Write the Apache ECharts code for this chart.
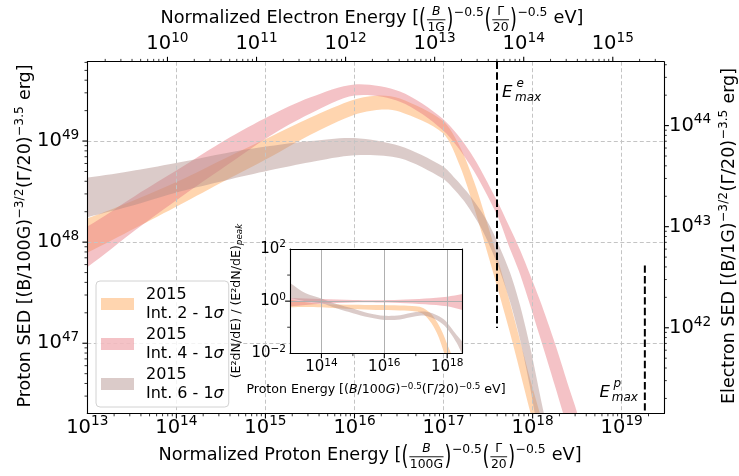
<!DOCTYPE html>
<html>
<head>
<meta charset="utf-8">
<script src="https://cdn.jsdelivr.net/npm/echarts@6/dist/echarts.min.js"></script>
<style>
html, body { margin: 0; padding: 0; background: #fff; }
#main { width: 739px; height: 476px; }
</style>
</head>
<body>
<div id="main"></div>
<script>
var FONT = 'DejaVu Sans';

// all values are log10
// main plot: x = log10 proton energy, y = log10 proton SED
var int2X  = [12.86, 13.01, 13.54, 14.04, 14.55, 15.05, 15.50, 16.00, 16.28, 16.51, 16.99, 17.18, 17.35, 17.52, 17.75, 17.97, 18.14];
var int2Lo = [47.84, 47.90, 48.14, 48.37, 48.61, 48.84, 49.06, 49.26, 49.31, 49.29, 49.08, 48.76, 48.32, 47.81, 47.09, 46.33, 45.74];
var int2Hi = [48.22, 48.24, 48.42, 48.61, 48.83, 49.04, 49.23, 49.41, 49.45, 49.42, 49.20, 48.95, 48.58, 48.10, 47.39, 46.65, 46.08];

var int4X  = [12.86, 13.01, 13.54, 14.04, 14.55, 15.05, 15.50, 16.00, 16.51, 16.99, 17.30, 17.60, 17.73, 17.86, 18.08, 18.25, 18.39, 18.53];
var int4Lo = [47.70, 47.76, 48.12, 48.44, 48.75, 49.05, 49.27, 49.45, 49.39, 49.11, 48.76, 48.27, 47.97, 47.68, 47.07, 46.58, 46.16, 45.69];
var int4Hi = [48.12, 48.16, 48.46, 48.73, 49.01, 49.25, 49.43, 49.56, 49.49, 49.22, 48.89, 48.41, 48.17, 47.92, 47.43, 47.00, 46.61, 46.19];

var int6X  = [12.86, 13.01, 13.54, 14.04, 14.55, 15.05, 15.50, 16.00, 16.51, 16.99, 17.13, 17.26, 17.41, 17.52, 17.63, 17.75, 17.86, 17.97, 18.08, 18.20];
var int6Lo = [48.23, 48.25, 48.37, 48.50, 48.61, 48.71, 48.79, 48.86, 48.83, 48.63, 48.51, 48.37, 48.16, 47.96, 47.72, 47.40, 47.03, 46.57, 46.02, 45.38];
var int6Hi = [48.65, 48.64, 48.71, 48.79, 48.88, 48.95, 49.00, 49.03, 48.95, 48.75, 48.63, 48.50, 48.32, 48.16, 47.95, 47.69, 47.37, 46.97, 46.50, 45.94];

// maximum energies (proton-axis units) and the y span of the dashed markers
var eMaxE = 17.60, eMaxEY = [49.785, 47.15];
var eMaxP = 19.26, eMaxPY = [47.77, 46.305];

// inset: x = log10 proton energy, y = log10 of the normalised SED
var in2X  = [12.9, 13.0, 13.5, 14.0, 15.0, 15.74, 16.5, 17.0, 17.25, 17.5, 17.7, 17.85, 18.0, 18.2];
var in2Lo = [-0.23, -0.23, -0.22, -0.23, -0.30, -0.34, -0.36, -0.40, -0.50, -0.85, -1.30, -1.80, -2.40, -3.20];
var in2Hi = [0.06, 0.05, -0.04, -0.11, -0.14, -0.15, -0.17, -0.20, -0.27, -0.50, -0.85, -1.20, -1.65, -2.30];

var in4X  = [12.9, 13.0, 14.0, 15.0, 15.74, 16.5, 17.3, 18.0, 18.48, 18.6];
var in4Lo = [-0.21, -0.20, -0.10, -0.05, -0.05, -0.07, -0.12, -0.20, -0.34, -0.37];
var in4Hi = [0.13, 0.12, 0.08, 0.04, 0.03, 0.05, 0.10, 0.17, 0.27, 0.30];

var in6X  = [12.9, 13.0, 13.5, 14.0, 14.5, 15.0, 15.5, 16.0, 16.5, 17.0, 17.3, 17.6, 17.9, 18.1, 18.3, 18.5, 18.7];
var in6Lo = [0.15, 0.12, 0.00, -0.08, -0.28, -0.46, -0.62, -0.72, -0.70, -0.58, -0.56, -0.68, -0.92, -1.22, -1.60, -2.10, -2.70];
var in6Hi = [0.76, 0.70, 0.30, 0.10, -0.12, -0.28, -0.46, -0.56, -0.54, -0.42, -0.40, -0.50, -0.70, -0.98, -1.30, -1.60, -2.10];

var names = ['2015\nInt. 2 - 1σ', '2015\nInt. 4 - 1σ', '2015\nInt. 6 - 1σ'];
var colors = ['rgba(255,178,110,0.55)', 'rgba(230,120,128,0.45)', 'rgba(175,140,135,0.45)'];

// axis ranges (log10)
var xMin = 13, xMax = 19.475;
var yMin = 46.305, yMax = 49.785;
var eOffset = 3.9;      // log10 Ep - log10 Ee
var sedOffset = 5.153;  // proton SED - electron SED
var ixMin = 13, ixMax = 18.48, iyMin = -2, iyMax = 2;

var meas = document.createElement('canvas').getContext('2d');
function textW(s, size, italic) {
    meas.font = (italic ? 'italic ' : '') + size + 'px "DejaVu Sans"';
    return meas.measureText(s).width;
}
function piece(s, x, y, size, italic, align) {
    return {
        type: 'text', x: x, y: y,
        style: {
            text: s, fontSize: size, fontFamily: FONT, fontStyle: italic ? 'italic' : 'normal',
            fill: '#000', align: align || 'left', textAlign: align || 'left',
            verticalAlign: 'middle', textVerticalAlign: 'middle'
        }
    };
}
// axis title with real fractions and superscripts
function mathTitle(parts, F, cx, cy, rot) {
    var kids = [], x = 0, S = F * 0.7;
    parts.forEach(function (p) {
        if (p.t != null) {
            kids.push(piece(p.t, x, 0, F, p.it));
            x += textW(p.t, F, p.it);
        } else if (p.sup != null) {
            kids.push(piece(p.sup, x + 0.5, -F * 0.3, S));
            x += textW(p.sup, S) + 1;
        } else if (p.paren) {
            var el = piece(p.paren, x, F * 0.1, F);
            el.scaleY = 1.5;
            kids.push(el);
            x += textW(p.paren, F);
        } else if (p.num != null) {
            var w = Math.max(textW(p.num, S, p.numIt), textW(p.den, S)) + 3, ly = F * 0.1;
            kids.push(piece(p.num, x + w / 2, ly - S * 0.62, S, p.numIt, 'center'));
            kids.push(piece(p.den, x + w / 2, ly + S * 0.66, S, false, 'center'));
            kids.push({ type: 'line', shape: { x1: x + 1, y1: ly, x2: x + w - 1, y2: ly }, style: { stroke: '#000', lineWidth: 0.9 } });
            x += w;
        }
    });
    kids.forEach(function (k) {
        if (k.type === 'line') { k.shape.x1 -= x / 2; k.shape.x2 -= x / 2; }
        else k.x -= x / 2;
    });
    return { type: 'group', x: cx, y: cy, rotation: rot || 0, children: kids, z: 20 };
}

function powLabel(v) {
    var r = Math.round(v);
    if (Math.abs(v - r) > 1e-6) return '';
    return '{b|10}{s|' + (r < 0 ? '\u2212' + (-r) : r) + '}';
}
function labelRich(big, small) {
    return {
        b: { fontSize: big, lineHeight: big * 1.13, fontFamily: FONT, color: '#000' },
        s: { fontSize: small, lineHeight: small * 1.03, fontFamily: FONT, color: '#000', padding: [0, 0, big * 0.58, 0] }
    };
}

function majorTicks(lo, hi, step) {
    var out = [];
    for (var n = Math.ceil(lo / step) * step; n <= hi + 1e-9; n += step) {
        if (n > lo + 1e-6 && n < hi - 1e-6) out.push(n);
    }
    return out;
}
function minorTicks(lo, hi) {
    var out = [];
    for (var n = Math.floor(lo); n < hi; n++) {
        for (var k = 2; k <= 9; k++) {
            var v = n + Math.log10(k);
            if (v > lo && v < hi) out.push(v);
        }
    }
    return out;
}
// tick marks drawn on an axis side, pointing outwards
function tickSeries(xi, yi, side, vals, len, lw) {
    return {
        type: 'custom', xAxisIndex: xi, yAxisIndex: yi, silent: true, clip: false, z: 8,
        data: vals.map(function (v) { return [v, v]; }),
        renderItem: function (params, api) {
            var cs = params.coordSys, v = api.value(0), s;
            if (side === 'bottom' || side === 'top') {
                var px = api.coord([v, 0])[0];
                var y0 = side === 'bottom' ? cs.y + cs.height : cs.y;
                var dy = side === 'bottom' ? len : -len;
                s = { x1: px, y1: y0, x2: px, y2: y0 + dy };
            } else {
                var py = api.coord([0, v])[1];
                var x0 = side === 'left' ? cs.x : cs.x + cs.width;
                var dx = side === 'left' ? -len : len;
                s = { x1: x0, y1: py, x2: x0 + dx, y2: py };
            }
            return { type: 'line', shape: s, style: { stroke: '#000', lineWidth: lw } };
        }
    };
}

function bandSeries(name, xs, lo, hi, color, xi, yi, z) {
    var data = xs.map(function (x, i) { return [x, lo[i], hi[i]]; });
    return {
        name: name, type: 'custom', xAxisIndex: xi, yAxisIndex: yi, z: z, silent: true,
        itemStyle: { color: color },
        encode: { x: 0, y: [1, 2] },
        data: data,
        renderItem: function (params, api) {
            if (params.dataIndex !== 0) return null;
            var top = [], bot = [];
            for (var i = 0; i < data.length; i++) {
                top.push(api.coord([data[i][0], data[i][2]]));
                bot.push(api.coord([data[i][0], data[i][1]]));
            }
            var cs = params.coordSys;
            return {
                type: 'polygon',
                shape: { points: top.concat(bot.reverse()), smooth: 0.3 },
                style: { fill: color },
                clipPath: { type: 'rect', shape: { x: cs.x, y: cs.y, width: cs.width, height: cs.height } }
            };
        }
    };
}

var dashGrid = { show: true, showMinLine: false, showMaxLine: false, lineStyle: { color: '#c4c4c4', width: 1, type: [4, 2.5] } };
var spine = { show: true, onZero: false, lineStyle: { color: '#000', width: 1.1 } };

var option = {
    animation: false,
    backgroundColor: '#fff',
    grid: [
        { left: 87.3, top: 61.7, width: 576.7, height: 351.8, outerBoundsMode: 'none' },
        { left: 290, top: 249, width: 172.3, height: 104.3, show: true, backgroundColor: '#fff', borderWidth: 0, z: 5, outerBoundsMode: 'none' }
    ],
    xAxis: [
        { type: 'value', gridIndex: 0, position: 'bottom', min: xMin, max: xMax, splitNumber: 6, z: 3,
          axisLine: spine, axisTick: { show: false }, splitLine: dashGrid,
          axisLabel: { margin: 3, formatter: powLabel, rich: labelRich(19.5, 13.7) } },
        { type: 'value', gridIndex: 0, position: 'top', min: xMin - eOffset, max: xMax - eOffset, splitNumber: 6, z: 3,
          axisLine: spine, axisTick: { show: false }, splitLine: { show: false },
          axisLabel: { margin: 7, formatter: powLabel, rich: labelRich(19.5, 13.7) } },
        { type: 'value', gridIndex: 1, min: ixMin, max: ixMax, splitNumber: 3, z: 7,
          axisLine: spine, axisTick: { show: false },
          splitLine: { show: true, showMinLine: false, showMaxLine: false, lineStyle: { color: '#b0b0b0', width: 1 } },
          axisLabel: { margin: 5.5, formatter: powLabel, rich: labelRich(15, 10.5) } },
        { type: 'value', gridIndex: 1, position: 'top', min: ixMin, max: ixMax, z: 7,
          axisLine: spine, axisTick: { show: false }, axisLabel: { show: false }, splitLine: { show: false } }
    ],
    yAxis: [
        { type: 'value', gridIndex: 0, position: 'left', min: yMin, max: yMax, splitNumber: 3, z: 3,
          axisLine: spine, axisTick: { show: false }, splitLine: dashGrid,
          axisLabel: { margin: 8, formatter: powLabel, rich: labelRich(19.5, 13.7) } },
        { type: 'value', gridIndex: 0, position: 'right', min: yMin - sedOffset, max: yMax - sedOffset, splitNumber: 3, z: 3,
          axisLine: spine, axisTick: { show: false }, splitLine: { show: false },
          axisLabel: { margin: 5, formatter: powLabel, rich: labelRich(19.5, 13.7) } },
        { type: 'value', gridIndex: 1, position: 'left', min: iyMin, max: iyMax, interval: 2, z: 7,
          axisLine: spine, axisTick: { show: false },
          splitLine: { show: true, showMinLine: false, showMaxLine: false, lineStyle: { color: '#b0b0b0', width: 1 } },
          axisLabel: { margin: 4, formatter: powLabel, rich: labelRich(15, 10.5) } },
        { type: 'value', gridIndex: 1, position: 'right', min: iyMin, max: iyMax, z: 7,
          axisLine: spine, axisTick: { show: false }, axisLabel: { show: false }, splitLine: { show: false } }
    ],
    legend: {
        data: names, orient: 'vertical', left: 96, top: 281, z: 10,
        itemWidth: 33, itemHeight: 12, itemGap: 2,
        icon: 'rect',
        padding: [4, 5, 4, 5],
        backgroundColor: 'rgba(255,255,255,0.8)', borderColor: '#d2d2d2', borderWidth: 1, borderRadius: 4,
        formatter: function (n) { return n.replace('1σ', '1{i|σ}'); },
        textStyle: {
            fontFamily: FONT, fontSize: 16, lineHeight: 19, color: '#000', padding: [0, 0, 0, 7],
            rich: { i: { fontFamily: FONT, fontSize: 16, lineHeight: 19, fontStyle: 'italic', color: '#000' } }
        }
    },
    graphic: [
        mathTitle([{ t: 'Normalized Proton Energy [' }, { paren: '(' }, { num: 'B', numIt: true, den: '100G' }, { paren: ')' }, { sup: '\u22120.5' },
                   { paren: '(' }, { num: 'Γ', den: '20' }, { paren: ')' }, { sup: '\u22120.5' }, { t: ' eV]' }], 17.7, 370, 455),
        mathTitle([{ t: 'Normalized Electron Energy [' }, { paren: '(' }, { num: 'B', numIt: true, den: '1G' }, { paren: ')' }, { sup: '\u22120.5' },
                   { paren: '(' }, { num: 'Γ', den: '20' }, { paren: ')' }, { sup: '\u22120.5' }, { t: ' eV]' }], 17.7, 372, 18),
        mathTitle([{ t: 'Proton SED [(B/100G)' }, { sup: '\u22123/2' }, { t: '(Γ/20)' }, { sup: '\u22123.5' }, { t: ' erg]' }], 17.5, 25, 236, Math.PI / 2),
        mathTitle([{ t: 'Electron SED [(B/1G)' }, { sup: '\u22123/2' }, { t: '(Γ/20)' }, { sup: '\u22123.5' }, { t: ' erg]' }], 17.5, 729, 236, Math.PI / 2),
        {
            type: 'text', x: 376, y: 390, z: 20,
            style: {
                text: '{n|Proton Energy [(}{i|B}{n|/100}{i|G}{n|)}{s|\u22120.5}{n|(Γ/20)}{s|\u22120.5}{n| eV]}',
                align: 'center', textAlign: 'center', verticalAlign: 'middle', textVerticalAlign: 'middle',
                rich: {
                    n: { fontSize: 12.6, fontFamily: FONT, fill: '#000', color: '#000' },
                    i: { fontSize: 12.6, fontFamily: FONT, fontStyle: 'italic', fill: '#000', color: '#000' },
                    s: { fontSize: 8.8, fontFamily: FONT, fill: '#000', color: '#000', padding: [0, 0, 7, 0] }
                }
            }
        },
        {
            type: 'text', x: 237, y: 301, rotation: Math.PI / 2, z: 20,
            style: {
                text: '{n|(E²dN/dE) / (E²dN/dE)}{p|peak}',
                align: 'center', textAlign: 'center', verticalAlign: 'middle', textVerticalAlign: 'middle',
                rich: {
                    n: { fontSize: 12.6, fontFamily: FONT, fill: '#000', color: '#000' },
                    p: { fontSize: 8.8, fontFamily: FONT, fontStyle: 'italic', fill: '#000', color: '#000', padding: [6, 0, 0, 0] }
                }
            }
        },
        // E_max labels
        { type: 'text', x: 502, y: 92.5, z: 20, style: { text: 'E', fontSize: 16.5, fontFamily: FONT, fontStyle: 'italic', fill: '#000', verticalAlign: 'middle', textVerticalAlign: 'middle' } },
        { type: 'text', x: 516.5, y: 83.8, z: 20, style: { text: 'e', fontSize: 12, fontFamily: FONT, fontStyle: 'italic', fill: '#000', verticalAlign: 'middle', textVerticalAlign: 'middle' } },
        { type: 'text', x: 515, y: 97.5, z: 20, style: { text: 'max', fontSize: 12, fontFamily: FONT, fontStyle: 'italic', fill: '#000', verticalAlign: 'middle', textVerticalAlign: 'middle' } },
        { type: 'text', x: 599.4, y: 392.7, z: 20, style: { text: 'E', fontSize: 16.5, fontFamily: FONT, fontStyle: 'italic', fill: '#000', verticalAlign: 'middle', textVerticalAlign: 'middle' } },
        { type: 'text', x: 613.6, y: 384, z: 20, style: { text: 'p', fontSize: 12, fontFamily: FONT, fontStyle: 'italic', fill: '#000', verticalAlign: 'middle', textVerticalAlign: 'middle' } },
        { type: 'text', x: 611.7, y: 397.8, z: 20, style: { text: 'max', fontSize: 12, fontFamily: FONT, fontStyle: 'italic', fill: '#000', verticalAlign: 'middle', textVerticalAlign: 'middle' } }
    ],
    series: [
        bandSeries(names[0], int2X, int2Lo, int2Hi, colors[0], 0, 0, 2),
        bandSeries(names[1], int4X, int4Lo, int4Hi, colors[1], 0, 0, 2),
        bandSeries(names[2], int6X, int6Lo, int6Hi, colors[2], 0, 0, 2),
        { type: 'line', xAxisIndex: 0, yAxisIndex: 0, z: 4, symbol: 'none', silent: true,
          data: [[eMaxE, eMaxEY[0]], [eMaxE, eMaxEY[1]]], lineStyle: { color: '#000', width: 2, type: [7.4, 3.2] } },
        { type: 'line', xAxisIndex: 0, yAxisIndex: 0, z: 4, symbol: 'none', silent: true,
          data: [[eMaxP, eMaxPY[0]], [eMaxP, eMaxPY[1]]], lineStyle: { color: '#000', width: 2, type: [7.4, 3.2] } },

        bandSeries('inset2', in2X, in2Lo, in2Hi, colors[0], 2, 2, 6),
        bandSeries('inset4', in4X, in4Lo, in4Hi, colors[1], 2, 2, 6),
        bandSeries('inset6', in6X, in6Lo, in6Hi, colors[2], 2, 2, 6),

        tickSeries(0, 0, 'bottom', majorTicks(xMin, xMax, 1), 4.9, 1.1),
        tickSeries(0, 0, 'bottom', minorTicks(xMin, xMax), 2.8, 0.8),
        tickSeries(1, 0, 'top', majorTicks(xMin - eOffset, xMax - eOffset, 1), 4.9, 1.1),
        tickSeries(1, 0, 'top', minorTicks(xMin - eOffset, xMax - eOffset), 2.8, 0.8),
        tickSeries(0, 0, 'left', majorTicks(yMin, yMax, 1), 4.9, 1.1),
        tickSeries(0, 0, 'left', minorTicks(yMin, yMax), 2.8, 0.8),
        tickSeries(0, 1, 'right', majorTicks(yMin - sedOffset, yMax - sedOffset, 1), 4.9, 1.1),
        tickSeries(0, 1, 'right', minorTicks(yMin - sedOffset, yMax - sedOffset), 2.8, 0.8),
        tickSeries(2, 2, 'bottom', majorTicks(ixMin, ixMax, 2), 4.9, 1.1),
        tickSeries(2, 2, 'bottom', [15, 17], 2.8, 0.8),
        tickSeries(2, 2, 'left', [0], 4.9, 1.1),
        tickSeries(2, 2, 'left', [-1, 1], 2.8, 0.8)
    ]
};

var chart = echarts.init(document.getElementById('main'), null, { renderer: 'canvas' });
chart.setOption(option);
</script>
</body>
</html>
